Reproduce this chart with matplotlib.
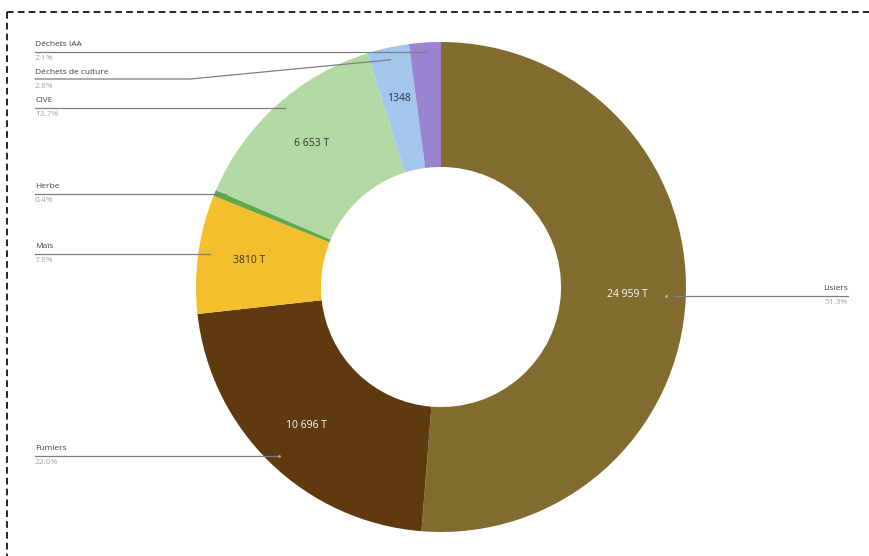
import numpy as np
import matplotlib.pyplot as plt

# Data (tonnes), in drawing order: clockwise from the top
categories = ["Lisiers", "Fumiers", "Maïs", "Herbe", "CIVE",
              "Déchets de culture", "Déchets IAA"]
tonnes = [24959, 10696, 3810, 195, 6653, 1348, 1020]
value_labels = ["24 959 T", "10 696 T", "3810 T", "", "6 653 T", "1348", ""]
pct_labels = ["51.3%", "22.0%", "7.8%", "0.4%", "13.7%", "2.8%", "2.1%"]
colors = ["#826B2F", "#5E3A0E", "#F4BF2C", "#5FA84A", "#B2D9A3",
          "#A3C6EC", "#9A84CF"]
value_colors = ["white", "white", "#3a3020", "", "#2f3a2a", "#2b3340", ""]

W, H = 869, 556
fig = plt.figure(figsize=(W / 100, H / 100), dpi=100)
ax = fig.add_axes([0, 0, 1, 1])

cx, cy = 441, H - 287
R = 245

wedges, _ = ax.pie(tonnes, colors=colors, startangle=90, counterclock=False,
                   radius=R, center=(cx, cy), frame=True,
                   wedgeprops=dict(width=R * 0.51, edgecolor="none"))
ax.set_xlim(0, W)
ax.set_ylim(0, H)
ax.axis("off")

# label positions (pixel rows of the name text)
label_rows = {"Lisiers": 289, "Fumiers": 449, "Maïs": 247, "Herbe": 187,
              "CIVE": 101, "Déchets de culture": 72, "Déchets IAA": 45}

for i, w in enumerate(wedges):
    mid = np.deg2rad((w.theta1 + w.theta2) / 2)
    name = categories[i]
    # value labels inside ring
    if value_labels[i]:
        r_in = 0.79 * R if i != 0 else 0.76 * R
        ax.text(cx + r_in * np.cos(mid), cy + r_in * np.sin(mid), value_labels[i],
                ha="center", va="center", fontsize=7.5, color=value_colors[i],
                family="Open Sans")
    # leader lines
    r_end = 0.95 * R
    ex, ey = cx + r_end * np.cos(mid), cy + r_end * np.sin(mid)
    row = label_rows[name]
    line_y = H - (row + 7)
    if name == "Lisiers":
        ax.plot([ex, 848], [ey, ey], color="#7f7f7f", lw=0.9)
        ax.plot([ex - 8], [ey], "o", ms=2, color="#c8b890", mec="none")
        ax.text(848, H - row, name, ha="right", va="center", fontsize=6,
                color="#404040", family="Open Sans")
        ax.text(848, H - row - 14, pct_labels[i], ha="right", va="center",
                fontsize=6, color="#a6a6a6", family="Open Sans")
    else:
        if name == "Déchets de culture":
            xs, ys = [35, 190, ex], [line_y, line_y, ey]
        else:
            xs, ys = [35, ex], [line_y, line_y]
        ax.plot(xs, ys, color="#7f7f7f", lw=0.9)
        if name == "Fumiers":
            ax.plot([ex], [line_y], "o", ms=2, color="#c8a880", mec="none")
        ax.text(35, H - row, name, ha="left", va="center", fontsize=6,
                color="#404040", family="Open Sans")
        ax.text(35, H - row - 14, pct_labels[i], ha="left", va="center",
                fontsize=6, color="#a6a6a6", family="Open Sans")

# dashed frame (top and left edges visible)
ax.plot([7, W], [H - 12, H - 12], color="black", lw=1.2, ls=(0, (4, 2.5)))
ax.plot([7, 7], [H - 12, 0], color="black", lw=1.2, ls=(0, (4, 2.5)))

fig.savefig("out.png", dpi=100)
